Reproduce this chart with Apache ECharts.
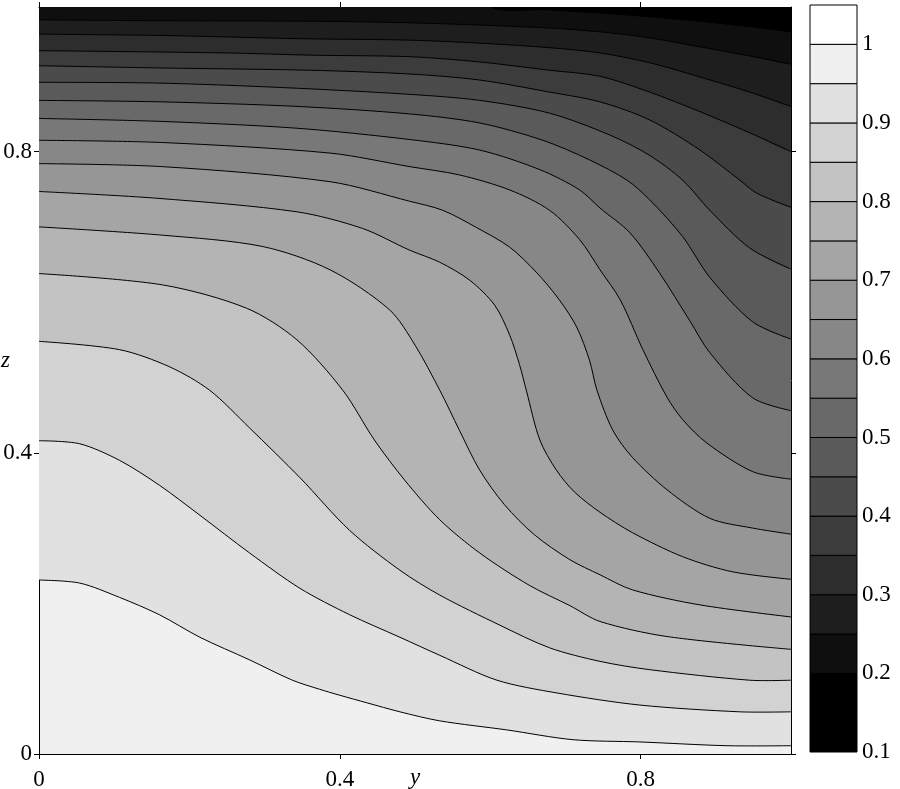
<!DOCTYPE html>
<html><head><meta charset="utf-8">
<script src="https://cdn.jsdelivr.net/npm/echarts@6/dist/echarts.min.js"></script>
<style>html,body{margin:0;padding:0;background:#fff}#c{width:900px;height:789px}</style>
</head><body><div id="c"></div>
<script>
// ---- data (y, z) points along each contour level ----
const zMax = 0.992;
const levels = [0.95, 0.9, 0.85, 0.8, 0.75, 0.7, 0.65, 0.6, 0.55, 0.5, 0.45, 0.4, 0.35, 0.3, 0.25, 0.2];

const c095 = [[0,0.231],[0.054,0.227],[0.107,0.208],[0.160,0.185],[0.214,0.155],[0.280,0.125],[0.337,0.098],[0.373,0.086],[0.400,0.078],[0.436,0.068],[0.480,0.056],[0.533,0.044],[0.622,0.032],[0.710,0.019],[0.799,0.016],[0.915,0.011],[1,0.011]];
const c090 = [[0,0.416],[0.054,0.412],[0.107,0.390],[0.160,0.357],[0.214,0.317],[0.280,0.267],[0.347,0.220],[0.413,0.185],[0.480,0.155],[0.533,0.131],[0.609,0.098],[0.689,0.081],[0.799,0.065],[0.932,0.056],[1,0.056]];
const c085 = [[0,0.548],[0.107,0.537],[0.174,0.514],[0.227,0.483],[0.280,0.433],[0.347,0.367],[0.413,0.297],[0.480,0.244],[0.533,0.211],[0.613,0.171],[0.679,0.141],[0.746,0.123],[0.812,0.112],[0.945,0.098],[1,0.098]];
const c080 = [[0,0.638],[0.164,0.623],[0.276,0.592],[0.343,0.550],[0.404,0.483],[0.446,0.417],[0.486,0.364],[0.533,0.311],[0.586,0.267],[0.652,0.224],[0.706,0.197],[0.746,0.176],[0.835,0.156],[1,0.139]];
const c075 = [[0,0.700],[0.164,0.689],[0.297,0.674],[0.387,0.643],[0.466,0.590],[0.500,0.543],[0.533,0.483],[0.559,0.430],[0.586,0.377],[0.619,0.331],[0.659,0.291],[0.706,0.258],[0.746,0.238],[0.789,0.218],[0.879,0.198],[1,0.182]];
const c070 = [[0,0.747],[0.157,0.738],[0.343,0.720],[0.430,0.698],[0.493,0.669],[0.533,0.653],[0.573,0.629],[0.606,0.596],[0.626,0.556],[0.639,0.517],[0.648,0.483],[0.666,0.417],[0.688,0.377],[0.712,0.348],[0.746,0.321],[0.789,0.294],[0.856,0.262],[0.922,0.242],[1,0.232]];
const c065 = [[0,0.784],[0.164,0.780],[0.387,0.760],[0.493,0.734],[0.537,0.722],[0.582,0.699],[0.626,0.673],[0.662,0.639],[0.692,0.603],[0.715,0.567],[0.732,0.523],[0.742,0.483],[0.763,0.430],[0.789,0.394],[0.835,0.351],[0.892,0.313],[0.949,0.300],[1,0.292]];
const c060 = [[0,0.815],[0.164,0.812],[0.387,0.798],[0.493,0.780],[0.559,0.769],[0.626,0.749],[0.679,0.722],[0.719,0.683],[0.746,0.643],[0.773,0.603],[0.803,0.537],[0.835,0.474],[0.856,0.444],[0.888,0.413],[0.949,0.375],[1,0.365]];
const c055 = [[0,0.844],[0.164,0.840],[0.343,0.831],[0.493,0.816],[0.586,0.802],[0.666,0.776],[0.719,0.749],[0.746,0.725],[0.786,0.692],[0.825,0.639],[0.865,0.576],[0.892,0.533],[0.949,0.473],[1,0.456]];
const c050 = [[0,0.868],[0.164,0.866],[0.343,0.860],[0.493,0.850],[0.586,0.838],[0.670,0.815],[0.732,0.789],[0.782,0.762],[0.812,0.736],[0.856,0.687],[0.892,0.633],[0.949,0.574],[1,0.551]];
const c045 = [[0,0.892],[0.157,0.891],[0.324,0.885],[0.493,0.876],[0.586,0.868],[0.679,0.851],[0.759,0.822],[0.812,0.795],[0.856,0.762],[0.892,0.722],[0.945,0.672],[1,0.644]];
const c040 = [[0,0.914],[0.164,0.911],[0.360,0.908],[0.493,0.903],[0.586,0.895],[0.679,0.879],[0.746,0.866],[0.812,0.842],[0.879,0.802],[0.932,0.762],[0.954,0.745],[1,0.726]];
const c035 = [[0,0.934],[0.250,0.931],[0.364,0.928],[0.493,0.926],[0.586,0.919],[0.679,0.908],[0.746,0.900],[0.812,0.879],[0.879,0.853],[0.945,0.825],[1,0.800]];
const c030 = [[0,0.956],[0.174,0.954],[0.343,0.950],[0.493,0.948],[0.586,0.944],[0.679,0.938],[0.746,0.931],[0.812,0.918],[0.879,0.899],[0.945,0.879],[1,0.860]];
const c025 = [[0,0.975],[0.121,0.974],[0.373,0.973],[0.493,0.971],[0.586,0.968],[0.679,0.964],[0.746,0.959],[0.812,0.951],[0.879,0.939],[0.945,0.927],[1,0.916]];
const c020 = [[0.600,0.992],[0.680,0.988],[0.746,0.984],[0.812,0.979],[0.879,0.973],[0.945,0.966],[1,0.959]];

const contours = [c095, c090, c085, c080, c075, c070, c065, c060, c055, c050, c045, c040, c035, c030, c025, c020];

const xTicks = [0, 0.4, 0.8];
const zTicks = [0, 0.4, 0.8];
const barTicks = [0.1, 0.2, 0.3, 0.4, 0.5, 0.6, 0.7, 0.8, 0.9, 1];
const bandLows = [0.1, 0.15, 0.2, 0.25, 0.3, 0.35, 0.4, 0.45, 0.5, 0.55, 0.6, 0.65, 0.7, 0.75, 0.8, 0.85, 0.9, 0.95, 1.0];
const bandColors = ['#000000','#000000','#0f0f0f','#1e1e1e','#2d2d2d','#3c3c3c','#4b4b4b','#5a5a5a','#696969','#787878','#878787','#969696','#a5a5a5','#b4b4b4','#c3c3c3','#d2d2d2','#e1e1e1','#f0f0f0','#ffffff'];
const bandStep = 0.05;

// ---- chart ----
const FONT = '"Liberation Serif", "Times New Roman", serif';
const FS = 23;
const SMOOTH = 0.3;
function bandColor(lo) {
  const i = Math.round((lo - bandLows[0]) / bandStep);
  return bandColors[Math.max(0, Math.min(bandColors.length - 1, i))];
}

const chart = echarts.init(document.getElementById('c'), null, {renderer: 'canvas'});

const fillSeries = {
  type: 'custom', xAxisIndex: 0, yAxisIndex: 0,
  clip: true, silent: true, z: 1,
  data: levels.map((L, i) => [i, 0]),
  renderItem: function (params, api) {
    const i = params.dataIndex;
    const c = contours[i];
    const first = c[0], last = c[c.length - 1];
    const pts = c.map(p => api.coord(p));
    const ext = 0.05;
    pts.push(api.coord([1 + ext, last[1]]));
    pts.push(api.coord([1 + ext, zMax + ext]));
    if (first[0] === 0) {
      pts.push(api.coord([-ext, zMax + ext]));
      pts.push(api.coord([-ext, first[1]]));
    } else {
      pts.push(api.coord([first[0], zMax + ext]));
    }
    return {type: 'polygon', shape: {points: pts, smooth: SMOOTH},
      style: {fill: bandColor(levels[i] - bandStep), stroke: null}};
  }
};

const lineSeries = {
  type: 'custom', xAxisIndex: 0, yAxisIndex: 0,
  clip: true, silent: true, z: 3,
  data: levels.map((L, i) => [i, 0]),
  renderItem: function (params, api) {
    const c = contours[params.dataIndex];
    return {type: 'polyline', shape: {points: c.map(p => api.coord(p)), smooth: SMOOTH},
      style: {stroke: '#000', lineWidth: 1, fill: null}};
  }
};

const barSeries = {
  type: 'custom', xAxisIndex: 2, yAxisIndex: 2, silent: true, z: 2,
  data: bandLows.map(lo => [0, lo]),
  renderItem: function (params, api) {
    const lo = bandLows[params.dataIndex];
    const p0 = api.coord([0, lo + bandStep]);
    const p1 = api.coord([1, lo]);
    return {type: 'rect', shape: {x: p0[0], y: p0[1], width: p1[0] - p0[0], height: p1[1] - p0[1]},
      style: {fill: bandColor(lo), stroke: '#000', lineWidth: 1}};
  }
};

const labelStyle = {color: '#000', fontFamily: FONT, fontSize: FS};
const nameStyle = {color: '#000', fontFamily: FONT, fontSize: FS, fontStyle: 'italic'};
const lineBlack = {color: '#000', width: 1};

chart.setOption({
  animation: false,
  backgroundColor: '#fff',
  grid: [
    {left: 39, top: 7, width: 752, height: 747, show: true, backgroundColor: bandColor(0.95), borderWidth: 0, containLabel: false, outerBoundsMode: 'none'},
    {left: 810, top: 5, width: 47, height: 747, show: false, containLabel: false, outerBoundsMode: 'none'}
  ],
  xAxis: [
    {type: 'value', gridIndex: 0, position: 'bottom', min: 0, max: 1, interval: 0.4,
      axisLine: {show: true, onZero: false, lineStyle: lineBlack},
      axisTick: {show: true, inside: false, length: 5, lineStyle: lineBlack, customValues: xTicks},
      axisLabel: Object.assign({margin: 14, customValues: xTicks, formatter: v => String(v)}, labelStyle),
      splitLine: {show: false},
      name: 'y', nameLocation: 'middle', nameGap: 12, nameMoveOverlap: false,
      nameTextStyle: nameStyle},
    {type: 'value', gridIndex: 0, position: 'top', min: 0, max: 1, interval: 0.4,
      axisLine: {show: true, onZero: false, lineStyle: lineBlack},
      axisTick: {show: true, inside: false, length: 5, lineStyle: lineBlack, customValues: xTicks},
      axisLabel: {show: false}, splitLine: {show: false}},
    {type: 'value', gridIndex: 1, min: 0, max: 1, show: false}
  ],
  yAxis: [
    {type: 'value', gridIndex: 0, position: 'left', min: 0, max: zMax, interval: 0.4,
      axisLine: {show: true, onZero: false, lineStyle: lineBlack},
      axisTick: {show: true, inside: false, length: 5, lineStyle: lineBlack, customValues: zTicks},
      axisLabel: Object.assign({margin: 7, customValues: zTicks, formatter: v => String(v)}, labelStyle),
      splitLine: {show: false},
      name: 'z\n ', nameLocation: 'middle', nameRotate: 0, nameGap: 29, nameMoveOverlap: false,
      nameTextStyle: Object.assign({lineHeight: 39}, nameStyle)},
    {type: 'value', gridIndex: 0, position: 'right', min: 0, max: zMax, interval: 0.4,
      axisLine: {show: true, onZero: false, lineStyle: lineBlack},
      axisTick: {show: true, inside: false, length: 5, lineStyle: lineBlack, customValues: zTicks},
      axisLabel: {show: false}, splitLine: {show: false}},
    {type: 'value', gridIndex: 1, position: 'right', min: 0.1, max: 1.05, interval: 0.1,
      axisLine: {show: false}, axisTick: {show: false}, splitLine: {show: false},
      axisLabel: Object.assign({margin: 5, customValues: barTicks, formatter: v => String(+(+v).toFixed(2))}, labelStyle)}
  ],
  series: [fillSeries, lineSeries, barSeries]
});
</script>
</body></html>
